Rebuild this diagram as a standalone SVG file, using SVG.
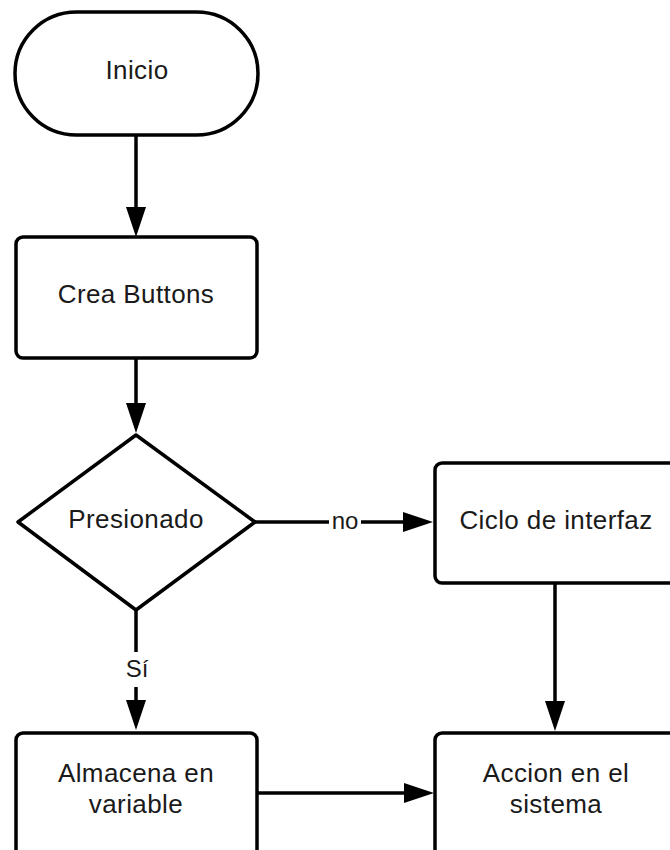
<svg xmlns="http://www.w3.org/2000/svg" width="670" height="850" viewBox="0 0 670 850">
  <style>
    .shape { fill: #ffffff; stroke: #000000; stroke-width: 3.5; stroke-linejoin: round; }
    .link { fill: none; stroke: #000000; stroke-width: 3.5; }
    .txt { font-family: "Liberation Sans", Arial, sans-serif; font-size: 26px; letter-spacing: 0.4px; fill: #1a1a1a; text-anchor: middle; }
    .lbl { font-family: "Liberation Sans", Arial, sans-serif; font-size: 24px; fill: #1a1a1a; text-anchor: middle; }
  </style>
  <defs>
    <marker id="arrow" markerUnits="userSpaceOnUse" viewBox="0 0 30 20" markerWidth="30" markerHeight="20" refX="10" refY="10" orient="auto">
      <path d="M0,0 L30,10 L0,20 Z" fill="#000000"/>
    </marker>
  </defs>
  <rect width="670" height="850" fill="#ffffff"/>

  <!-- connectors -->
  <g id="connectors">
    <path class="link" d="M136,135 V217" marker-end="url(#arrow)"/>
    <path class="link" d="M136,358 V413" marker-end="url(#arrow)"/>
    <path class="link" d="M255,522 H413" marker-end="url(#arrow)"/>
    <path class="link" d="M136,610 V710" marker-end="url(#arrow)"/>
    <path class="link" d="M555,583 V711" marker-end="url(#arrow)"/>
    <path class="link" d="M257,793 H414" marker-end="url(#arrow)"/>
    <!-- branch labels on a white backing -->
    <g id="label-no">
      <rect x="329" y="508" width="32" height="26" fill="#ffffff"/>
      <text class="lbl" x="345" y="529">no</text>
    </g>
    <g id="label-si">
      <rect x="122" y="652" width="30" height="35" fill="#ffffff"/>
      <text class="lbl" x="137" y="677">Sí</text>
    </g>
  </g>

  <g id="inicio">
    <rect class="shape" x="15" y="12" width="243" height="123" rx="61.5" ry="61.5"/>
    <text class="txt" x="137" y="79">Inicio</text>
  </g>

  <g id="crea-buttons">
    <rect class="shape" x="16" y="237" width="241" height="121" rx="7" ry="7"/>
    <text class="txt" x="136" y="303">Crea Buttons</text>
  </g>

  <g id="presionado">
    <path class="shape" d="M136,435 L255,522 L136,610 L18,522 Z"/>
    <text class="txt" x="136" y="528">Presionado</text>
  </g>

  <g id="ciclo-interfaz">
    <rect class="shape" x="435" y="463" width="242" height="120" rx="7" ry="7"/>
    <text class="txt" x="556" y="529">Ciclo de interfaz</text>
  </g>

  <g id="almacena-variable">
    <rect class="shape" x="16" y="733" width="241" height="125" rx="7" ry="7"/>
    <text class="txt" x="136" y="782">Almacena en</text>
    <text class="txt" x="136" y="813">variable</text>
  </g>

  <g id="accion-sistema">
    <rect class="shape" x="435" y="733" width="242" height="125" rx="7" ry="7"/>
    <text class="txt" x="556" y="782">Accion en el</text>
    <text class="txt" x="556" y="813">sistema</text>
  </g>
</svg>
